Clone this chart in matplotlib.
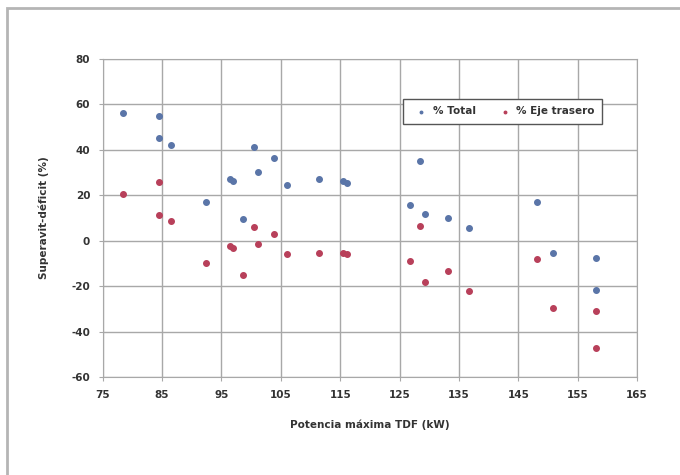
import matplotlib
matplotlib.use("Agg")
import matplotlib.pyplot as plt
from matplotlib.patches import Rectangle

# Potencia maxima TDF (kW) and superavit-deficit (%)
potencia = [78.4, 84.5, 84.5, 86.5, 92.4, 96.5, 97.0, 98.6, 100.5, 101.2,
            103.8, 106.0, 111.5, 115.4, 116.1, 126.7, 128.5, 129.3, 133.2,
            136.7, 148.2, 150.9, 158.0, 158.0]
total = [56.3, 54.9, 45.2, 42.0, 16.9, 27.0, 26.5, 9.5, 41.1, 30.1,
         36.3, 24.6, 27.1, 26.4, 25.5, 15.7, 34.9, 11.6, 9.8,
         5.4, 16.9, -5.2, -7.8, -21.5]
eje_trasero = [20.4, 25.8, 11.4, 8.8, -9.6, -2.5, -3.3, -15.0, 5.9, -1.6,
               2.8, -6.0, -5.2, -5.6, -6.0, -9.0, 6.7, -18.2, -13.3,
               -22.2, -8.1, -29.7, -30.7, -47.0]

x_ticks = [75, 85, 95, 105, 115, 125, 135, 145, 155, 165]
y_ticks = [-60, -40, -20, 0, 20, 40, 60, 80]

plt.rcParams['font.family'] = ['DejaVu Sans']
plt.rcParams['axes.unicode_minus'] = False

fig = plt.figure(figsize=(6.8, 4.75), dpi=100)
ax = fig.add_axes([0.151, 0.206, 0.786, 0.670])

ax.scatter(potencia, total, s=16, color='#5a75a8', label='% Total', zorder=3)
ax.scatter(potencia, eje_trasero, s=16, color='#b8405a', label='% Eje trasero', zorder=3)

ax.set_xlim(75, 165)
ax.set_ylim(-60, 80)
ax.set_xticks(x_ticks)
ax.set_yticks(y_ticks)
ax.grid(True, color='#a8a8a8', linewidth=1.0)
ax.set_axisbelow(True)
for s in ax.spines.values():
    s.set_color('#a8a8a8')
ax.tick_params(axis='both', length=3, color='#a8a8a8', labelsize=7.5, pad=6)
for lab in ax.get_xticklabels() + ax.get_yticklabels():
    lab.set_fontweight('bold')
    lab.set_color('#333333')

ax.set_xlabel('Potencia máxima TDF (kW)', fontsize=7.5, fontweight='bold',
              color='#333333', labelpad=14)
ax.set_ylabel('Superavit-déficit (%)', fontsize=7.5, fontweight='bold',
              color='#333333', labelpad=16)

leg = ax.legend(loc='upper left', bbox_to_anchor=(0.553, 0.89), ncol=2,
                fontsize=7.5, markerscale=0.45, handletextpad=0.1,
                columnspacing=1.8, fancybox=False, framealpha=1,
                borderpad=0.7)
leg.get_frame().set_edgecolor('#555555')
for t in leg.get_texts():
    t.set_fontweight('bold')
    t.set_color('#333333')

# chart area border
fig.patches.append(Rectangle((7 / 680, -0.1), 1.2, 1 - 8 / 475 + 0.1,
                             transform=fig.transFigure, fill=False,
                             edgecolor='#b5b5b5', linewidth=2))

fig.savefig('out.png', dpi=100)
